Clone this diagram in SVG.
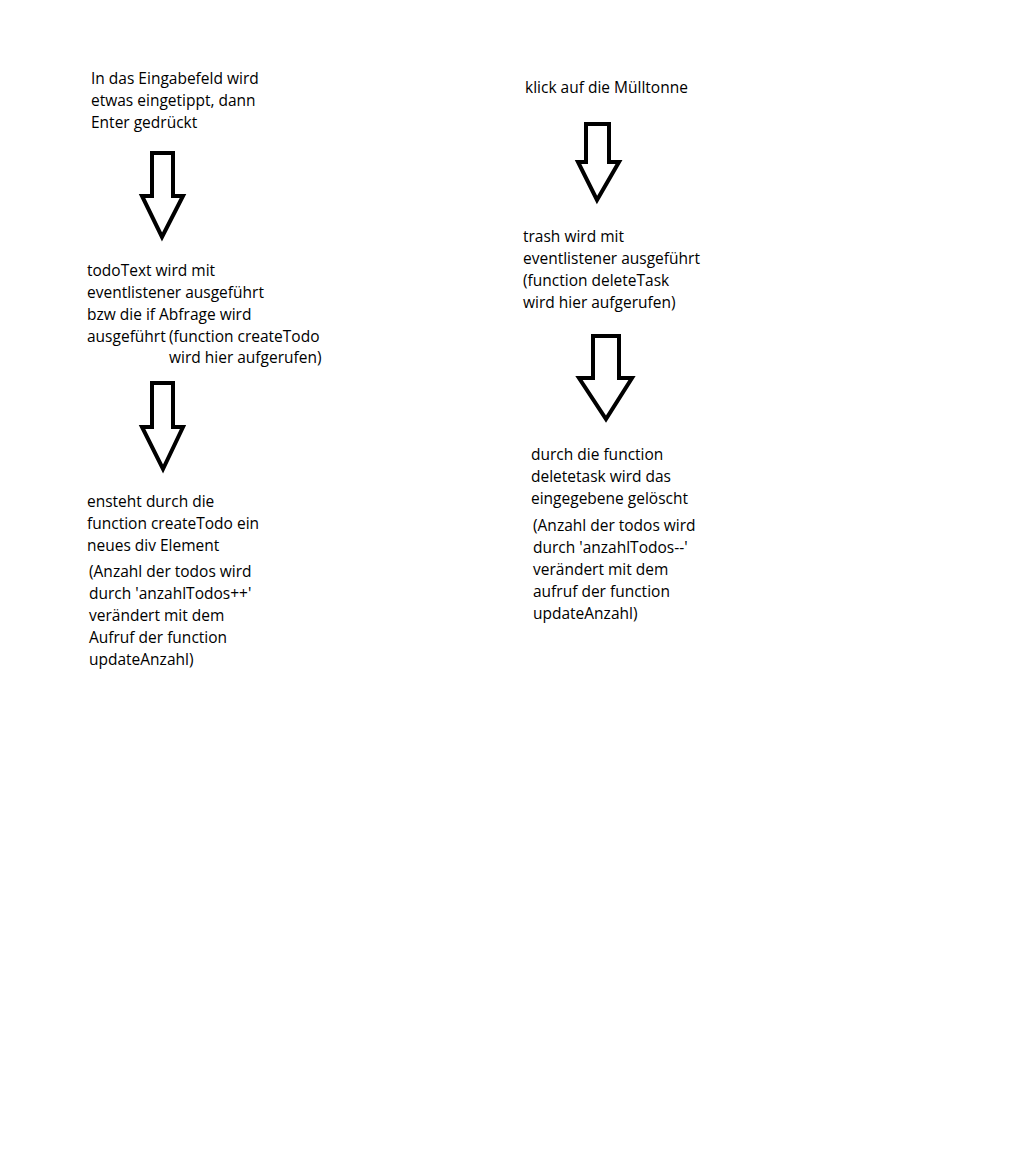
<svg xmlns="http://www.w3.org/2000/svg" width="1033" height="1172" viewBox="0 0 1033 1172">
<style>
text{font-family:"Open Sans","Noto Sans","Liberation Sans",sans-serif;font-size:15.5px;fill:#000}
.arrow{fill:#fff;stroke:#000;stroke-width:4;stroke-linejoin:miter}
</style>
<rect width="1033" height="1172" fill="#fff"/>
<g id="node-eingabe"><text x="91" y="84">In das Eingabefeld wird</text><text x="91" y="106">etwas eingetippt, dann</text><text x="91" y="128">Enter gedrückt</text></g>
<g id="node-todotext"><text x="87" y="276">todoText wird mit</text><text x="87" y="298">eventlistener ausgeführt</text><text x="87" y="320">bzw die if Abfrage wird</text><text x="87" y="342">ausgeführt <tspan x="169">(function createTodo</tspan></text><text x="169" y="363">wird hier aufgerufen)</text></g>
<g id="node-ensteht"><text x="87" y="507">ensteht durch die</text><text x="87" y="529">function createTodo ein</text><text x="87" y="551">neues div Element</text><text x="89" y="577">(Anzahl der todos wird</text><text x="89" y="599">durch 'anzahlTodos++'</text><text x="89" y="621">verändert mit dem</text><text x="89" y="643">Aufruf der function</text><text x="89" y="665">updateAnzahl)</text></g>
<g id="node-klick"><text x="525" y="93">klick auf die Mülltonne</text></g>
<g id="node-trash"><text x="523" y="242">trash wird mit</text><text x="523" y="264">eventlistener ausgeführt</text><text x="523" y="286">(function deleteTask</text><text x="523" y="308">wird hier aufgerufen)</text></g>
<g id="node-delete"><text x="531" y="460">durch die function</text><text x="531" y="482">deletetask wird das</text><text x="531" y="504">eingegebene gelöscht</text><text x="533" y="531">(Anzahl der todos wird</text><text x="533" y="553">durch 'anzahlTodos--'</text><text x="533" y="575">verändert mit dem</text><text x="533" y="597">aufruf der function</text><text x="533" y="619">updateAnzahl)</text></g>
<g id="connectors">
<polygon class="arrow" points="152,153 173,153 173,196 183,196 162,237 142,196 152,196"/>
<polygon class="arrow" points="152,383 173,383 173,427 183,427 163,469 142,427 152,427"/>
<polygon class="arrow" points="586,124 609,124 609,162 619,162 597,200 578,162 586,162"/>
<polygon class="arrow" points="593,336 619,336 619,378 632,378 606,419 579,378 593,378"/>
</g>
</svg>
